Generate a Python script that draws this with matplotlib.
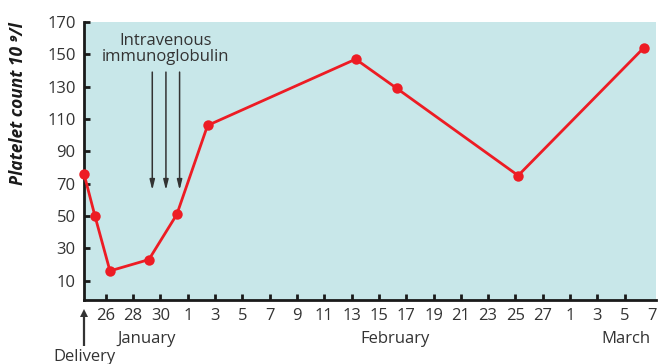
import matplotlib
matplotlib.use("Agg")
import matplotlib.pyplot as plt
from matplotlib.lines import Line2D

# Days counted from 26 January
days = [-1.6, -0.8, 0.3, 3.15, 5.2, 7.45, 18.3, 21.3, 30.2, 39.4]
platelets = [76, 50, 16, 23, 51, 106, 147, 129, 75, 154]

tick_days = list(range(0, 41, 2))
tick_labels = ["26", "28", "30", "1", "3", "5", "7", "9", "11", "13", "15",
               "17", "19", "21", "23", "25", "27", "1", "3", "5", "7"]
y_ticks = [10, 30, 50, 70, 90, 110, 130, 150, 170]

ivig_days = [3.4, 4.4, 5.4]
months = ["January", "February", "March"]
month_pos = [3.0, 21.2, 38.1]

plt.rcParams["font.family"] = ["Open Sans", "DejaVu Sans"]
text_col = "#333333"
red = "#ED1C24"

fig = plt.figure(figsize=(6.6, 3.64), dpi=100)
ax = fig.add_axes([0.1273, 0.1758, 0.8667, 0.7638])
ax.set_facecolor("#C8E7E9")

ax.plot(days, platelets, color=red, lw=2, marker="o", ms=7.5,
        markeredgewidth=0, zorder=3, clip_on=False)

ax.set_xlim(-1.6, 40.3)
ax.set_ylim(-2, 170)
ax.set_xticks(tick_days)
ax.set_xticklabels(tick_labels)
ax.set_yticks(y_ticks)

for s in ["top", "right"]:
    ax.spines[s].set_visible(False)
for s in ["left", "bottom"]:
    ax.spines[s].set_linewidth(2)
    ax.spines[s].set_color("#1a1a1a")

ax.tick_params(axis="both", direction="in", length=4, width=2,
               color="#1a1a1a", labelsize=12, labelcolor=text_col)
ax.tick_params(axis="x", pad=6)
ax.tick_params(axis="y", pad=6)
ax.xaxis.get_major_ticks()[-1].tick1line.set_visible(False)

ax.set_ylabel("Platelet count 10 \u2079/l", fontsize=12.5, fontweight="bold",
              style="italic", color="#1a1a1a")
ax.yaxis.set_label_coords(-0.099, 0.708)

# Intravenous immunoglobulin doses
for d in ivig_days:
    ax.annotate("", xy=(d, 66), xytext=(d, 139),
                arrowprops=dict(arrowstyle="-|>,head_length=0.6,head_width=0.15",
                                color="#333333", lw=1.1, shrinkA=0, shrinkB=0))
ax.text(4.4, 163, "Intravenous\nimmunoglobulin", ha="center", va="top",
        fontsize=12, color=text_col, linespacing=1.0)

# Month labels under the day ticks
for name, pos in zip(months, month_pos):
    ax.annotate(name, xy=(pos, 0), xycoords=("data", "axes fraction"),
                xytext=(0, -28), textcoords="offset points",
                ha="center", va="center", fontsize=12, color=text_col)

# Delivery marker below the start of the time axis (figure coordinates)
fx = 83.5 / 660
fig.add_artist(Line2D([fx, fx], [0.0495, 0.140], transform=fig.transFigure,
                      color="#333333", lw=1.6, solid_capstyle="butt"))
fig.add_artist(Line2D([fx], [0.140], transform=fig.transFigure,
                      marker="^", ms=5.5, markeredgewidth=0, color="#333333"))
ax.annotate("Delivery", xy=(0, 0), xycoords="axes fraction",
            xytext=(0, -35), textcoords="offset points",
            ha="center", va="top", fontsize=12, color=text_col,
            annotation_clip=False)

fig.savefig("out.png", dpi=100)
